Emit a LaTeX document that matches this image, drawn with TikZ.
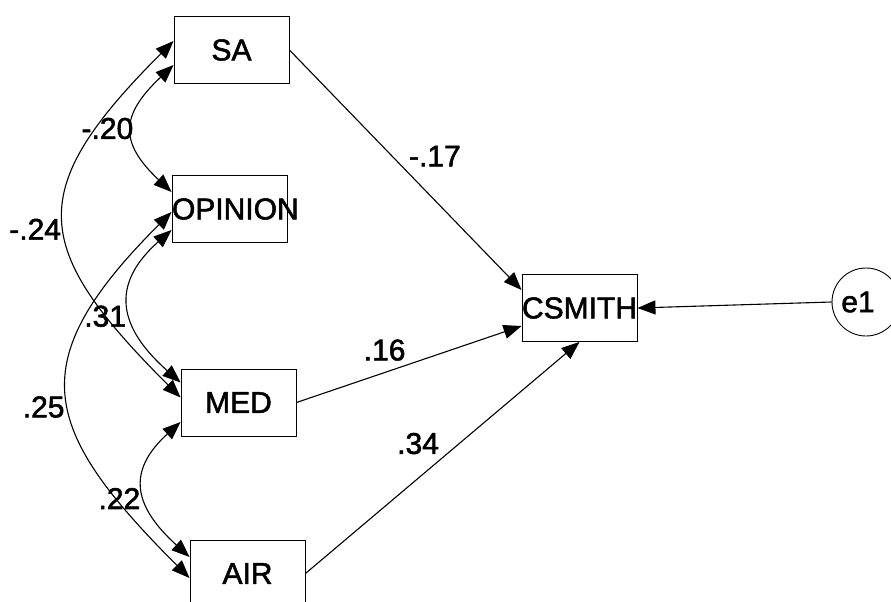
\documentclass[tikz,border=0pt]{standalone}
\usepackage{fontspec}
\newfontface\diagfont{Liberation Sans}[FakeBold=1.8]
\usepackage{tikz}
\usetikzlibrary{arrows.meta}
\usetikzlibrary{calc}

\begin{document}
\begin{tikzpicture}[x=1pt, y=-1pt,
  every node/.style={font=\diagfont\fontsize{30}{36}\selectfont, inner sep=0pt},
  obs/.style={draw, line width=0.9pt, minimum width=115pt, minimum height=67pt},
  err/.style={draw, circle, line width=0.9pt, minimum size=68pt},
  coef/.style={inner sep=3pt},
  effect/.style={-{Triangle[length=18pt,width=14pt]}, line width=1.1pt},
  cov/.style={{Triangle[length=18pt,width=14pt]}-{Triangle[length=18pt,width=14pt]}, line width=1.1pt}]
\clip (0,0) rectangle (891,602);
\node[obs] (sa) at (231.5,50) {SA};
\node[obs] (opinion) at (229.5,209) {\makebox[115pt][l]{OPINION}};
\node[obs] (med) at (238.5,402.5) {MED};
\node[obs] (air) at (247.5,573.5) {AIR};
\node[obs] (csmith) at (579.5,308) {\makebox[115pt][l]{CSMITH}};
\node[err] (e1) at (866,302) {\kern-16pt e1};

\path[effect]
(sa.east) edge node [coef, above right] {-.17} ([yshift=18pt]csmith.west)
(med.east) edge node [coef, above left] {.16} ([yshift=-18pt]csmith.west)
(air.east) edge node [coef, above left] {.34} (csmith.south)
(e1.west) edge (csmith.east)
;

\draw[cov] ([yshift=-15pt]sa.west) .. controls +(-53,50) and +(-53,-50) .. ([yshift=17pt]opinion.west) node [coef, midway, left, xshift=4pt] {-.20};
\draw[cov] ([yshift=9pt]sa.west) .. controls +(-150,150) and +(-150,-150) .. ([yshift=5pt]med.west) node [coef, midway, left, yshift=-10pt] {-.24};
\draw[cov] ([yshift=-21pt]opinion.west) .. controls +(-62,55) and +(-62,-55) .. ([yshift=20pt]med.west) node [coef, midway, left, yshift=-10pt] {.31};
\draw[cov] ([yshift=-3pt]opinion.west) .. controls +(-150,150) and +(-150,-150) .. ([yshift=-4.5pt]air.west) node [coef, midway, left, yshift=-12pt] {.25};
\draw[cov] ([yshift=-19.5pt]med.west) .. controls +(-55,50) and +(-55,-50) .. ([yshift=16.5pt]air.west) node [coef, midway, left, yshift=-9pt] {.22};
\end{tikzpicture}
\end{document}
